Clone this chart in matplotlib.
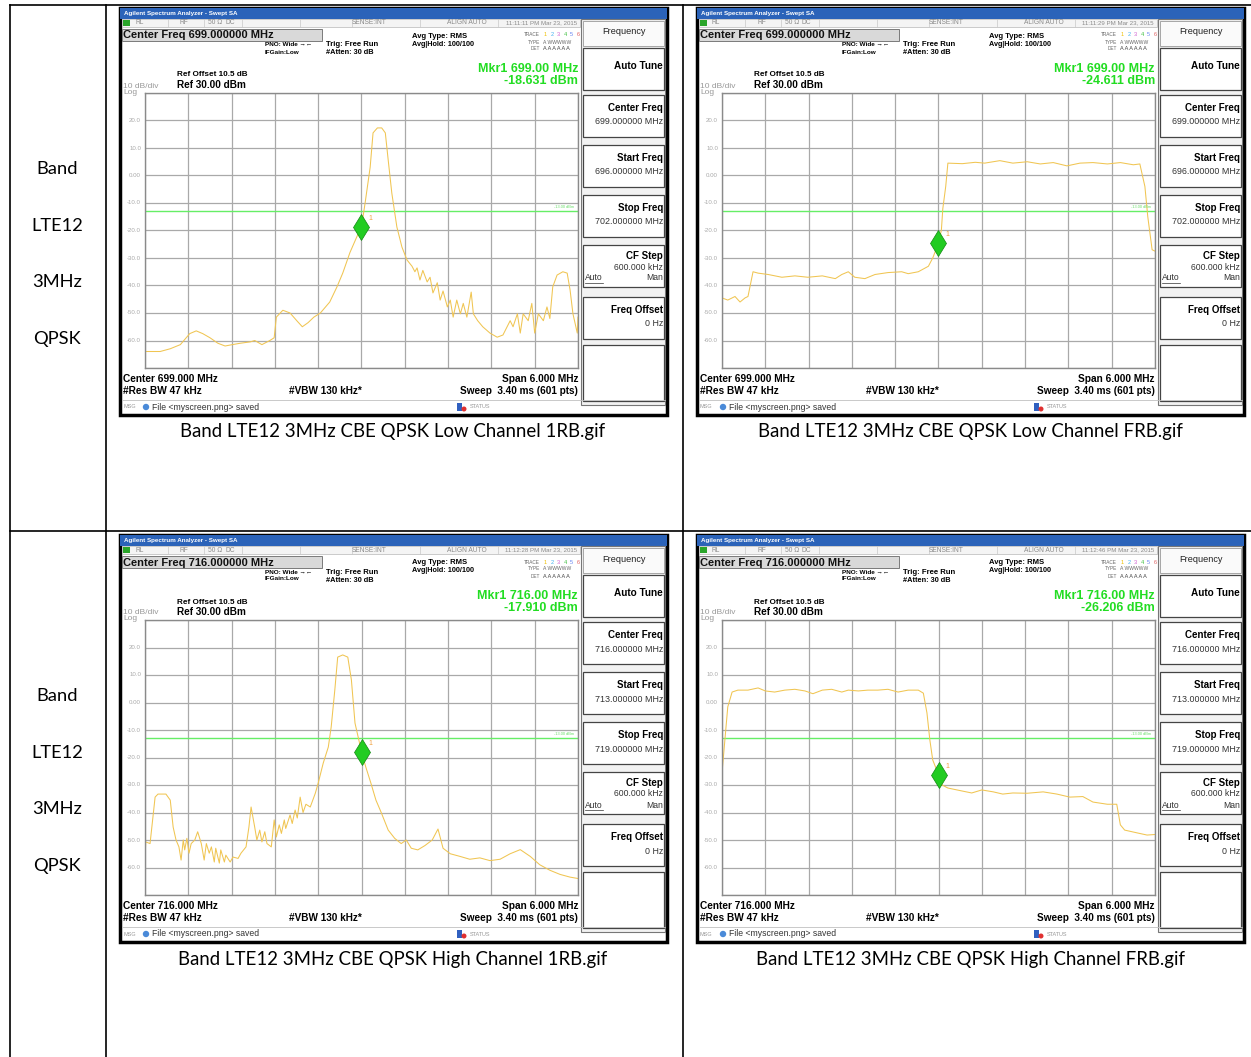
import matplotlib
matplotlib.use("Agg")
import matplotlib.pyplot as plt
from matplotlib.patches import Rectangle, Circle
import numpy as np

# ---- traces (MHz, dBm) ----
low_1rb_mhz = [696.00, 696.21, 696.35, 696.49, 696.62, 696.71, 696.80, 696.90, 697.01, 697.11,
               697.21, 697.32, 697.46, 697.52, 697.62, 697.73, 697.79, 697.82, 697.91, 698.01,
               698.11, 698.18, 698.26, 698.34, 698.43, 698.56, 698.66, 698.74, 698.84, 698.94,
               699.00, 699.05, 699.12, 699.16, 699.22, 699.28, 699.33, 699.37, 699.42, 699.49,
               699.56, 699.63, 699.70, 699.74, 699.77, 699.81, 699.85, 699.91, 699.95, 699.99,
               700.05, 700.09, 700.13, 700.19, 700.23, 700.27, 700.32, 700.37, 700.41, 700.46,
               700.52, 700.55, 700.61, 700.68, 700.78, 700.88, 700.96, 701.06, 701.10, 701.16,
               701.20, 701.24, 701.31, 701.36, 701.40, 701.45, 701.52, 701.57, 701.61, 701.65,
               701.71, 701.79, 701.85, 701.89, 701.93, 701.99, 702.00]
low_1rb_dbm = [-64.0, -64.0, -63.0, -61.5, -57.5, -56.5, -57.5, -59.0, -61.0, -62.0,
               -61.5, -61.0, -60.5, -60.0, -61.5, -60.0, -59.0, -51.5, -49.0, -50.0,
               -53.0, -55.0, -53.5, -51.5, -50.0, -46.0, -40.5, -35.5, -28.0, -22.0,
               -18.6, -10.0, 3.0, 15.5, 17.3, 17.3, 15.5, 5.6, -6.4, -18.7,
               -26.0, -30.7, -33.0, -35.0, -33.6, -38.0, -34.5, -38.7, -37.0, -42.7,
               -39.0, -45.3, -42.0, -47.8, -45.3, -51.5, -45.3, -50.3, -46.5, -51.5,
               -42.4, -50.3, -52.8, -55.0, -57.3, -58.8, -58.0, -52.8, -55.0, -50.3,
               -57.3, -50.3, -52.8, -46.5, -57.3, -50.3, -52.8, -47.8, -52.0, -40.5,
               -36.2, -35.0, -35.5, -41.6, -50.3, -57.3, -51.5]

low_frb_mhz = [696.00, 696.08, 696.18, 696.25, 696.32, 696.36, 696.43, 696.50, 696.64, 696.83,
               697.01, 697.19, 697.39, 697.57, 697.66, 697.75, 697.84, 697.98, 698.12, 698.30,
               698.49, 698.58, 698.72, 698.86, 698.92, 699.00, 699.04, 699.06, 699.10, 699.13,
               699.33, 699.51, 699.64, 699.85, 700.03, 700.23, 700.41, 700.59, 700.78, 700.96,
               701.14, 701.34, 701.52, 701.70, 701.79, 701.86, 701.90, 701.96, 702.00]
low_frb_dbm = [-44.5, -45.3, -44.0, -46.0, -44.5, -44.0, -35.0, -35.5, -36.0, -37.0,
               -36.5, -37.0, -36.5, -37.5, -36.0, -35.0, -37.0, -37.5, -36.0, -35.3,
               -35.0, -35.7, -35.0, -33.0, -30.0, -24.6, -19.8, -12.0, -4.0, 4.5,
               4.3, 4.8, 4.5, 5.4, 4.5, 5.0, 4.2, 4.7, 3.5, 4.5,
               4.7, 4.2, 4.7, 3.9, 4.2, -4.0, -15.0, -27.0, -27.5]

high_1rb_mhz = [713.00, 713.01, 713.07, 713.08, 713.14, 713.18, 713.29, 713.35, 713.39, 713.43,
                713.47, 713.50, 713.53, 713.55, 713.58, 713.61, 713.64, 713.69, 713.73, 713.78,
                713.82, 713.85, 713.89, 713.92, 713.96, 713.98, 714.03, 714.05, 714.10, 714.12,
                714.18, 714.22, 714.29, 714.33, 714.40, 714.44, 714.47, 714.52, 714.55, 714.59,
                714.62, 714.66, 714.69, 714.75, 714.79, 714.82, 714.86, 714.89, 714.93, 714.95,
                715.01, 715.04, 715.08, 715.11, 715.15, 715.19, 715.23, 715.29, 715.36, 715.40,
                715.47, 715.54, 715.58, 715.63, 715.67, 715.74, 715.81, 715.86, 715.91, 716.00,
                716.06, 716.13, 716.20, 716.27, 716.37, 716.46, 716.55, 716.62, 716.69, 716.78,
                716.88, 716.98, 717.06, 717.13, 717.23, 717.37, 717.50, 717.64, 717.78, 717.92,
                718.06, 718.20, 718.34, 718.47, 718.61, 718.75, 718.89, 719.00]
high_1rb_dbm = [-57.3, -50.7, -51.3, -48.9, -34.4, -33.3, -33.3, -35.5, -45.3, -50.0,
                -52.5, -57.3, -50.0, -53.6, -49.4, -54.8, -51.3, -50.0, -47.0, -51.3,
                -57.3, -51.3, -54.8, -52.5, -58.0, -53.0, -58.4, -53.6, -58.0, -55.5,
                -58.0, -56.2, -56.7, -54.8, -52.5, -45.3, -38.0, -45.3, -50.0, -46.4,
                -50.7, -47.0, -51.3, -52.5, -42.7, -48.9, -44.5, -47.6, -42.7, -45.8,
                -40.9, -44.0, -39.1, -42.0, -34.4, -40.0, -37.0, -38.0, -33.0, -29.3,
                -22.0, -16.2, -8.9, 4.5, 16.5, 17.3, 16.5, 8.2, -7.5, -17.9,
                -23.5, -29.3, -35.5, -39.8, -46.4, -49.4, -51.3, -50.0, -53.0, -53.6,
                -52.0, -50.0, -46.0, -53.0, -55.0, -56.0, -57.0, -56.5, -57.5, -57.0,
                -55.0, -53.5, -56.0, -59.0, -61.0, -62.5, -63.5, -64.0]

high_frb_mhz = [713.00, 713.04, 713.08, 713.14, 713.22, 713.36, 713.50, 713.60, 713.73, 713.87,
                714.01, 714.15, 714.26, 714.39, 714.52, 714.66, 714.75, 714.89, 715.02, 715.16,
                715.30, 715.44, 715.58, 715.72, 715.79, 715.84, 715.88, 715.92, 716.00, 716.05,
                716.13, 716.33, 716.46, 716.60, 716.76, 716.89, 717.03, 717.23, 717.45, 717.64,
                717.82, 718.00, 718.14, 718.34, 718.47, 718.52, 718.58, 718.75, 718.89, 719.00]
high_frb_dbm = [-25.6, -13.6, -1.6, 3.8, 4.5, 4.5, 5.3, 4.2, 3.8, 4.5,
                4.8, 4.2, 3.2, 4.5, 4.8, 3.8, 4.5, 4.2, 4.5, 4.5,
                4.8, 3.8, 4.5, 4.5, 3.4, -3.8, -13.6, -20.9, -26.2, -30.0,
                -31.1, -32.2, -32.9, -31.8, -32.5, -33.3, -32.9, -33.0, -32.5, -33.3,
                -34.4, -34.2, -36.2, -37.0, -37.0, -44.5, -46.4, -47.4, -48.2, -48.0]

marker_mhz = [699.00, 699.00, 716.00, 716.00]
marker_dbm = [-18.631, -24.611, -17.910, -26.206]
start_mhz = [696.0, 696.0, 713.0, 713.0]
stop_mhz = [702.0, 702.0, 719.0, 719.0]
center_mhz = [699.0, 699.0, 716.0, 716.0]
clock = ["11:11:11 PM Mar 23, 2015", "11:11:29 PM Mar 23, 2015",
         "11:12:28 PM Mar 23, 2015", "11:12:46 PM Mar 23, 2015"]
captions = ["Band LTE12 3MHz CBE QPSK Low Channel 1RB.gif",
            "Band LTE12 3MHz CBE QPSK Low Channel FRB.gif",
            "Band LTE12 3MHz CBE QPSK High Channel 1RB.gif",
            "Band LTE12 3MHz CBE QPSK High Channel FRB.gif"]
row_labels = ["Band", "LTE12", "3MHz", "QPSK"]
ref_level = 30.0
display_line = -13.0

traces = [(low_1rb_mhz, low_1rb_dbm), (low_frb_mhz, low_frb_dbm),
          (high_1rb_mhz, high_1rb_dbm), (high_frb_mhz, high_frb_dbm)]

W, H = 1251, 1057
SANS = ["Liberation Sans", "DejaVu Sans"]
CAP = ["Lato", "DejaVu Sans"]
fig = plt.figure(figsize=(W / 100, H / 100), dpi=100)
bg = fig.add_axes([0, 0, 1, 1])
bg.set_xlim(0, W)
bg.set_ylim(H, 0)
bg.axis("off")

# table rules
for x in [10, 106, 683]:
    bg.plot([x, x], [5, H], color="black", lw=1.2)
for y in [5, 531]:
    bg.plot([10, W], [y, y], color="black", lw=1.2)
for r, y0 in enumerate([169, 696]):
    for i, s in enumerate(row_labels):
        bg.text(57, y0 + i * 56.7, s, ha="center", va="center", fontsize=13.2, family=CAP)


def screen(k, ox, oy):
    f0, f1, fc = start_mhz[k], stop_mhz[k], center_mhz[k]

    def t(dx, dy, s, **kw):
        kw.setdefault("family", SANS)
        kw.setdefault("va", "center")
        bg.text(ox + dx, oy + dy, s, **kw)

    bg.add_patch(Rectangle((ox, oy), 547, 407, fc="white", ec="black", lw=2.5))
    bg.add_patch(Rectangle((ox, oy), 547, 11, fc="#2b63b9", ec="none"))
    t(4, 5.5, "Agilent Spectrum Analyzer - Swept SA", color="white", fontsize=4.5, weight="bold")
    # status row
    bg.add_patch(Rectangle((ox + 2, oy + 11), 458, 8, fc="#f4f4f4", ec="#b8b8b8", lw=0.5))
    bg.add_patch(Rectangle((ox + 3, oy + 12), 7, 6, fc="#2aa52a", ec="none"))
    for dx in [48, 84, 122, 180, 232, 300, 378]:
        bg.plot([ox + dx, ox + dx], [oy + 11, oy + 19], color="#c8c8c8", lw=0.5)
    for dx, s in [(15, "RL"), (60, "RF"), (88, "50 \u03a9"), (105, "DC"),
                  (232, "SENSE:INT"), (327, "ALIGN AUTO")]:
        t(dx, 15, s, color="#8a8a8a", fontsize=4.8)
    t(457, 15, clock[k], color="#8a8a8a", fontsize=4.4, ha="right")
    # active function box
    bg.add_patch(Rectangle((ox + 2, oy + 21), 200, 12, fc="#d9d9d9", ec="#7a7a7a", lw=0.7))
    t(3, 27.5, "Center Freq %.6f MHz" % fc, fontsize=8.0, weight="bold", color="#111111")
    t(145, 37, "PNO: Wide \u2192\u2190", fontsize=4.6, weight="bold")
    t(145, 44, "IFGain:Low", fontsize=4.6, weight="bold")
    t(206, 37, "Trig: Free Run", fontsize=5.6, weight="bold")
    t(206, 45, "#Atten: 30 dB", fontsize=5.3, weight="bold")
    t(292, 28, "Avg Type: RMS", fontsize=5.5, weight="bold")
    t(292, 36, "Avg|Hold: 100/100", fontsize=5.2, weight="bold")
    t(420, 27, "TRACE", fontsize=3.4, ha="right", color="#666666")
    t(420, 34, "TYPE", fontsize=3.4, ha="right", color="#666666")
    t(420, 41, "DET", fontsize=3.4, ha="right", color="#666666")
    for j, c in enumerate(["#f0c000", "#40b0f0", "#d060d0", "#40c040", "#6080f0", "#e06060"]):
        t(424 + j * 6.5, 27, str(j + 1), fontsize=4.0, color=c)
    t(423, 34, "A WWWWW", fontsize=3.6, color="#666666")
    t(423, 41, "A A A A A A", fontsize=4.0, color="#444444")
    # marker readout
    t(458, 61, "Mkr1 %.2f MHz" % marker_mhz[k], fontsize=9.0, weight="bold", color="#22dd22", ha="right")
    t(458, 73, "%.3f dBm" % marker_dbm[k], fontsize=9.0, weight="bold", color="#22dd22", ha="right")
    t(57, 67, "Ref Offset 10.5 dB", fontsize=5.9, weight="bold")
    t(57, 77, "Ref %.2f dBm" % ref_level, fontsize=7.2, weight="bold")
    t(3, 78, "10 dB/div", fontsize=6.0, color="#999999")
    t(3, 84, "Log", fontsize=6.0, color="#999999")
    for i in range(1, 10):
        v = ref_level - 10 * i
        t(21, 85 + i * 27.5, "0.00" if v == 0 else "%.1f" % v, fontsize=4.4,
          color="#aaaaaa", ha="right")
    # bottom annotations
    t(3, 371, "Center %.3f MHz" % fc, fontsize=7.3, weight="bold")
    t(3, 383, "#Res BW 47 kHz", fontsize=7.3, weight="bold")
    t(169, 383, "#VBW 130 kHz*", fontsize=7.2, weight="bold")
    t(458, 371, "Span %.3f MHz" % (f1 - f0), fontsize=7.3, weight="bold", ha="right")
    t(458, 383, "Sweep  3.40 ms (601 pts)", fontsize=7.2, weight="bold", ha="right")
    bg.plot([ox + 2, ox + 545], [oy + 392, oy + 392], color="#c0c0c0", lw=0.6)
    t(3, 399, "MSG", fontsize=4.0, color="#999999")
    bg.add_patch(Circle((ox + 26, oy + 399), 3.2, fc="#4a8ad8", ec="none"))
    t(32, 399, "File <myscreen.png> saved", fontsize=6.2, color="#333333")
    bg.add_patch(Rectangle((ox + 337, oy + 395), 5, 8, fc="#3060c0", ec="none"))
    bg.add_patch(Circle((ox + 344, oy + 401), 2.5, fc="#e03030", ec="none"))
    t(350, 399, "STATUS", fontsize=4.0, color="#999999")
    # softkey panel
    bg.add_patch(Rectangle((ox + 461, oy + 11), 84, 386, fc="#f2f2f2", ec="#777777", lw=0.8))
    bg.add_patch(Rectangle((ox + 463, oy + 13), 81, 25, fc="#fafafa", ec="#999999", lw=0.6))
    t(504, 24, "Frequency", fontsize=6.6, ha="center", color="#222222")
    keys = [(40, 82, "Auto Tune", None), (87, 129, "Center Freq", "%.6f MHz" % fc),
            (137, 179, "Start Freq", "%.6f MHz" % f0), (187, 229, "Stop Freq", "%.6f MHz" % f1),
            (237, 279, "CF Step", "600.000 kHz"), (289, 331, "Freq Offset", "0 Hz"),
            (337, 393, "", None)]
    for y0, y1, lab, val in keys:
        bg.add_patch(Rectangle((ox + 463, oy + y0), 81, y1 - y0, fc="white", ec="#444444", lw=0.9))
        if lab == "Auto Tune":
            t(543, (y0 + y1) / 2 - 3, lab, fontsize=7.2, weight="bold", ha="right")
        elif lab == "CF Step":
            t(543, y0 + 11, lab, fontsize=7.0, weight="bold", ha="right")
            t(543, y0 + 22, val, fontsize=6.2, ha="right", color="#333333")
            t(543, y0 + 33, "Man", fontsize=6.2, ha="right", color="#333333")
            t(465, y0 + 33, "Auto", fontsize=6.2, color="#333333")
            bg.plot([ox + 465, ox + 483], [oy + y0 + 37.5, oy + y0 + 37.5], color="#333333", lw=0.5)
        elif lab:
            t(543, y0 + 13, lab, fontsize=7.0, weight="bold", ha="right")
            t(543, y0 + 27, val, fontsize=6.4, ha="right", color="#333333")

    # measurement grid
    ax = fig.add_axes([(ox + 25) / W, 1 - (oy + 85 + 275) / H, 433 / W, 275 / H])
    ax.set_xlim(f0, f1)
    ax.set_ylim(ref_level - 100, ref_level)
    ax.set_xticks(np.linspace(f0, f1, 11))
    ax.set_yticks(np.arange(ref_level - 100, ref_level + 1, 10))
    ax.grid(True, color="#a9a9a9", lw=0.9)
    ax.set_axisbelow(True)
    ax.tick_params(length=0, labelbottom=False, labelleft=False)
    for s in ax.spines.values():
        s.set_color("#8a8a8a")
        s.set_linewidth(1.0)
    ax.axhline(display_line, color="#66ee66", lw=1.0)
    ax.text(f1 - 0.05, display_line + 0.8, "-13.00 dBm", fontsize=2.8, color="#66dd66",
            ha="right", va="bottom", family=SANS)
    fx, ly = traces[k]
    ax.plot(fx, ly, color="#f0c552", lw=0.75)
    ax.plot([marker_mhz[k]], [marker_dbm[k]], marker="d", ms=13, color="#22cc22",
            mec="#118811", mew=0.5)
    ax.text(marker_mhz[k] + 0.1, marker_dbm[k] + 3, "1", fontsize=5, color="#f0a040",
            family=SANS, va="center")

    bg.text(ox + 273, oy + 424, captions[k], ha="center", va="center", fontsize=13.4, family=CAP)


for k, (ox, oy) in enumerate([(120, 8), (697, 8), (120, 535), (697, 535)]):
    screen(k, ox, oy)

fig.savefig("out.png", dpi=100)
